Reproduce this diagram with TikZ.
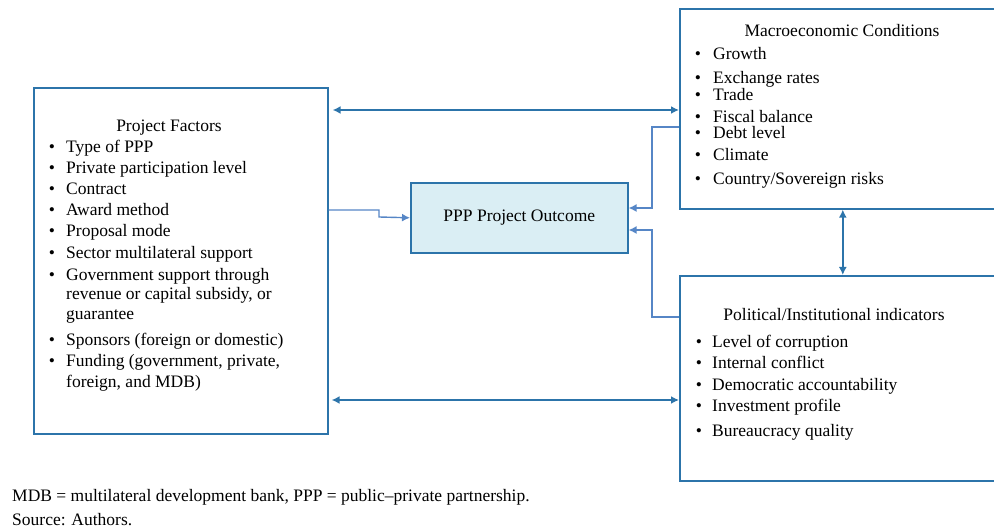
\documentclass[tikz,border=0pt]{standalone}
\usepackage{fontspec}
\setmainfont{Liberation Serif}
\usetikzlibrary{arrows.meta}

\definecolor{boxblue}{RGB}{44,116,170}
\definecolor{linkblue}{RGB}{86,134,198}
\definecolor{outfill}{RGB}{218,238,244}

\tikzset{
    box/.style={draw=boxblue, line width=1.6pt, anchor=north west, inner sep=0pt},
    item/.style={anchor=west, inner sep=0pt, text height=12pt, text depth=4pt,
        yshift=-2.5pt, font=\fontsize{17.5}{17.5}\selectfont},
    dot/.style={item, anchor=center},
    title/.style={item, anchor=center},
    dbl/.style={draw=boxblue, line width=1.6pt,
        {Latex[length=8pt,width=8pt]}-{Latex[length=8pt,width=8pt]}},
    feed/.style={draw=linkblue, line width=1.4pt, -{Latex[length=8pt,width=8pt]}}
}

\begin{document}
\begin{tikzpicture}[x=1pt, y=-1pt]
    \clip (0, 0) rectangle (994, 529);

    % boxes
    \node[box, minimum width=294pt, minimum height=346pt] (pf) at (33, 87) {};
    \node[box, fill=outfill, minimum width=217pt, minimum height=70pt,
        font=\fontsize{17.5}{17.5}\selectfont] (out) at (410, 182) {PPP Project Outcome};
    \node[box, minimum width=326pt, minimum height=200pt] (mac) at (679, 8) {};
    \node[box, minimum width=326pt, minimum height=205pt] (pol) at (679, 275) {};

    % project factors
    \node[title] (pf-title) at (169, 125) {Project Factors};
    \foreach \y [count=\i] in {146,167,188,209,230,252,274,339,360}
        \node[dot] (pf-b\i) at (52, \y) {\textbullet};
    \foreach \y/\t [count=\i] in {146/Type of PPP, 167/Private participation level,
        188/Contract, 209/Award method, 230/Proposal mode,
        252/Sector multilateral support, 274/Government support through,
        {293/revenue or capital subsidy, or}, 313/guarantee,
        339/Sponsors (foreign or domestic), {360/Funding (government, private,},
        {381/foreign, and MDB)}}
        \node[item] (pf-\i) at (66, \y) {\t};

    % macroeconomic conditions
    \node[title] (mac-title) at (842, 30) {Macroeconomic Conditions};
    \foreach \y/\t [count=\i] in {53/Growth, 77/Exchange rates, 94/Trade,
        116/Fiscal balance, 132/Debt level, 154/Climate,
        178/{Country/Sovereign risks}}
    {
        \node[dot] (mac-b\i) at (698, \y) {\textbullet};
        \node[item] (mac-\i) at (713, \y) {\t};
    }

    % political / institutional indicators
    \node[title] (pol-title) at (834, 314) {Political/Institutional indicators};
    \foreach \y/\t [count=\i] in {341/Level of corruption, 362/Internal conflict,
        384/Democratic accountability, 405/Investment profile,
        430/Bureaucracy quality}
    {
        \node[dot] (pol-b\i) at (699, \y) {\textbullet};
        \node[item] (pol-\i) at (712, \y) {\t};
    }

    % links
    \draw[dbl, shorten <=4pt] (pf.east |- 0, 110) -- (mac.west |- 0, 110);
    \draw[dbl, shorten <=3pt] (pf.east |- 0, 400) -- (pol.west |- 0, 400);
    \draw[dbl] (mac.south) -- (pol.north);
    \draw[feed] (pf.east |- 0, 210) -| (379, 217) -- (out.west);
    \draw[feed] (mac.west |- 0, 127) -| (652, 208) -- (out.east |- 0, 208);
    \draw[feed] (pol.west |- 0, 317) -| (652, 230) -- (out.east |- 0, 230);

    % note
    \node[item] (note) at (12, 495) {MDB = multilateral development bank, PPP = public--private partnership.};
    \node[item] (source) at (12, 519) {Source: Authors.};
\end{tikzpicture}
\end{document}
